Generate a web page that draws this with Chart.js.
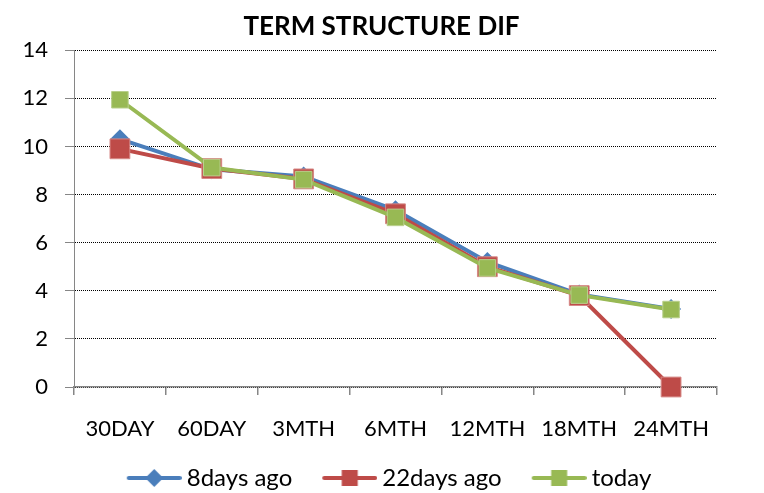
<!DOCTYPE html>
<html lang="en">
<head>
  <meta charset="UTF-8" />
  <title>Term Structure Dif</title>
  <script src="https://cdn.jsdelivr.net/npm/chart.js"></script>
  <style>
    * { margin: 0; padding: 0; box-sizing: border-box; }
    body { background: #ffffff; }
    #wrap { width: 764px; height: 493px; position: relative; }
  </style>
</head>
<body>
  <div id="wrap"><canvas id="grafico"></canvas></div>

  <script>
    // Dados
    const categorias = ['30DAY', '60DAY', '3MTH', '6MTH', '12MTH', '18MTH', '24MTH'];
    const dias8 = [10.3, 9.05, 8.75, 7.35, 5.2, 3.85, 3.24];
    const dias22 = [9.9, 9.08, 8.65, 7.2, 5.0, 3.8, 0];
    const hoje = [11.94, 9.12, 8.62, 7.05, 4.95, 3.82, 3.22];
    const yTicks = [0, 2, 4, 6, 8, 10, 12, 14];

    const fonte = 'Lato, "Open Sans", sans-serif';
    const azul = '#4a7ebb';
    const vermelho = '#be4b48';
    const verde = '#98b954';

    // espaçamento da legenda
    const legPad = 15;
    const legBox = 63;

    // ícone da legenda: linha + marcador (área transparente à esquerda)
    function marcadorLegenda(cor, tipo) {
      const c = document.createElement('canvas');
      c.width = legBox + 14; c.height = 20;
      const g = c.getContext('2d');
      const x0 = c.width - 55;
      const meio = x0 + 27.5;
      g.strokeStyle = cor;
      g.lineWidth = 4;
      g.lineCap = 'round';
      g.beginPath();
      g.moveTo(x0 + 2, 10); g.lineTo(c.width - 2, 10);
      g.stroke();
      g.fillStyle = cor;
      if (tipo === 'diamond') {
        g.beginPath();
        g.moveTo(meio, 1); g.lineTo(meio + 9, 10); g.lineTo(meio, 19); g.lineTo(meio - 9, 10);
        g.closePath(); g.fill();
      } else {
        g.fillRect(meio - 8, 2, 16, 16);
      }
      return c;
    }

    const ctx = document.getElementById('grafico').getContext('2d');
    new Chart(ctx, {
      type: 'line',
      data: {
        labels: categorias,
        datasets: [
          {
            label: '8days ago',
            data: dias8,
            borderColor: azul,
            backgroundColor: azul,
            borderWidth: 4,
            pointStyle: 'rectRot',
            pointRadius: 10,
            pointBorderWidth: 0,
            order: 2,
            clip: false,
            legendIcon: marcadorLegenda(azul, 'diamond'),
          },
          {
            label: '22days ago',
            data: dias22,
            borderColor: vermelho,
            backgroundColor: vermelho,
            pointBorderColor: '#d68886',
            borderWidth: 4,
            pointStyle: 'rect',
            pointRadius: 14,
            pointBorderWidth: 1,
            order: 1,
            clip: false,
            legendIcon: marcadorLegenda(vermelho, 'square'),
          },
          {
            label: 'today',
            data: hoje,
            borderColor: verde,
            backgroundColor: verde,
            pointBorderColor: '#b9d08c',
            borderWidth: 4,
            pointStyle: 'rect',
            pointRadius: 11.7,
            pointBorderWidth: 1,
            order: 0,
            clip: false,
            legendIcon: marcadorLegenda(verde, 'square'),
          },
        ],
      },
      options: {
        responsive: true,
        maintainAspectRatio: false,
        animation: false,
        layout: { padding: { left: 22, right: 47, top: 0, bottom: -7 } },
        plugins: {
          title: {
            display: true,
            text: 'TERM STRUCTURE DIF',
            color: '#000000',
            font: { family: fonte, size: 26, weight: 'bold' },
            padding: { top: 11, bottom: 8 },
          },
          legend: {
            position: 'bottom',
            labels: {
              color: '#000000',
              font: { family: fonte, size: 24 },
              usePointStyle: true,
              pointStyleWidth: legBox,
              padding: legPad,
              generateLabels: (chart) =>
                chart.data.datasets.map((ds, i) => ({
                  text: ds.label,
                  datasetIndex: i,
                  pointStyle: ds.legendIcon,
                  fillStyle: ds.borderColor,
                  strokeStyle: ds.borderColor,
                  lineWidth: 0,
                  fontColor: '#000000',
                  hidden: false,
                })),
              sort: (a, b) => a.datasetIndex - b.datasetIndex,
            },
          },
          tooltip: { enabled: false },
        },
        scales: {
          x: {
            offset: true,
            grid: {
              offset: true,
              drawOnChartArea: false,
              drawTicks: true,
              tickLength: 8,
              color: '#868686',
              lineWidth: 1.5,
            },
            border: { color: '#868686', width: 1.5 },
            ticks: {
              color: '#000000',
              font: { family: fonte, size: 22 },
              padding: 21,
              maxRotation: 0,
              autoSkip: false,
            },
            afterFit: (axis) => { axis.height = 64; },
          },
          y: {
            min: 0,
            max: 14,
            afterBuildTicks: (axis) => {
              axis.ticks = yTicks.map((v) => ({ value: v }));
            },
            afterFit: (axis) => { axis.width = 52; },
            grid: {
              color: '#000000',
              lineWidth: 1,
              tickLength: 9,
              tickColor: '#868686',
            },
            border: { display: true, color: '#868686', dash: [1, 1] },
            ticks: {
              color: '#000000',
              font: { family: fonte, size: 22 },
              padding: 17,
            },
          },
        },
      },
      plugins: [{
        // título e legenda do original ficam centrados na largura toda
        id: 'deslocaLegenda',
        afterLayout(chart) {
          chart.legend.left += 12;
          chart.legend.right += 12;
          chart.titleBlock.left += 12;
          chart.titleBlock.right += 12;
        },
      }],
    });
  </script>
</body>
</html>
